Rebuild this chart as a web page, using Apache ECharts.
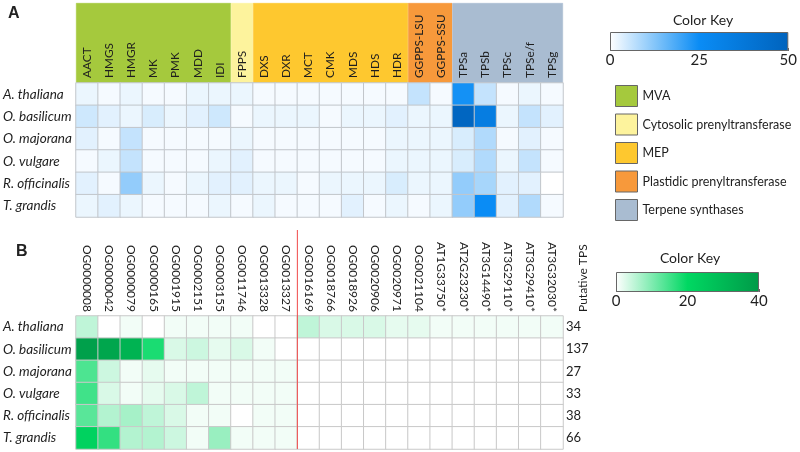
<!DOCTYPE html>
<html>
<head>
<meta charset="utf-8">
<script src="https://cdn.jsdelivr.net/npm/echarts@6/dist/echarts.min.js"></script>
<style>html,body{margin:0;padding:0;background:#fff;}#c{width:800px;height:452px;}</style>
</head>
<body>
<div id="c"></div>
<script>
// ---------- data ----------
const species = ['A. thaliana', 'O. basilicum', 'O. majorana', 'O. vulgare', 'R. officinalis', 'T. grandis'];
const enzymes = ['AACT','HMGS','HMGR','MK','PMK','MDD','IDI','FPPS','DXS','DXR','MCT','CMK','MDS','HDS','HDR','GGPPS-LSU','GGPPS-SSU','TPSa','TPSb','TPSc','TPSe/f','TPSg'];
const groupNames = ['MVA', 'Cytosolic prenyltransferase', 'MEP', 'Plastidic prenyltransferase', 'Terpene synthases'];
const enzymeGroup = [0,0,0,0,0,0,0,1,2,2,2,2,2,2,2,3,3,4,4,4,4,4];
const valuesA = [
  [2,1,2,1,1,2,2,2,1,1,1, 1,1,1,1,6,1,24,6,1,2,1],
  [5,3,2,4,2,3,5,1,2,2,2, 1,2,2,3,2,2,48,34,2,6,3],
  [3,1,6,1,1,1,1,2,1,1,1, 1,1,1,2,2,2,4,8,1,3,1],
  [1,2,6,1,1,1,2,3,1,1,1, 1,1,1,2,2,2,4,8,2,6,1],
  [3,1,11,2,1,2,3,3,2,2,1, 2,2,2,4,2,2,11,9,3,3,0],
  [2,3,2,1,1,1,2,1,2,1,1, 1,3,1,2,1,2,11,25,3,8,1]
];
const orthogroups = ['OG0000008','OG0000042','OG0000079','OG0000165','OG0001915','OG0002151','OG0003155','OG0011746','OG0013328','OG0013327',
  'OG0016169','OG0018766','OG0018926','OG0020906','OG0020971','OG0021104',
  'AT1G33750*','AT2G23230*','AT3G14490*','AT3G29110*','AT3G29410*','AT3G32030*'];
const firstArabidopsisOnly = 'OG0016169';
const valuesB = [
  [5,0,1,0,1,1,1,1,0,0, 5,3,3,3,2,2, 1,1,1,1,1,1],
  [38,36,32,18,3,4,2,3,1,0, 0,0,0,0,0,0, 0,0,0,0,0,0],
  [14,4,1,2,1,1,1,1,1,1, 0,0,0,0,0,0, 0,0,0,0,0,0],
  [15,3,1,2,3,5,1,1,1,1, 0,0,0,0,0,0, 0,0,0,0,0,0],
  [13,6,7,5,3,1,1,0,1,1, 0,0,0,0,0,0, 0,0,0,0,0,0],
  [22,16,6,6,4,1,8,1,1,1, 0,0,0,0,0,0, 0,0,0,0,0,0]
];
const putativeTPS = [34, 137, 27, 33, 38, 66];
const keyTicksA = {min: 0, max: 50, interval: 25};
const keyTicksB = {min: 0, max: 40, interval: 20};

// ---------- styles ----------
const groupColors = ['#a5c93d', '#fdf39d', '#fec82f', '#f7993b', '#a9bcd1'];
const blueScale = ['#ffffff', '#0a8cf5', '#0063bd'];
const greenScale = ['#ffffff', '#00d862', '#009a48'];
const FONT = 'Lato';
const TXT = '#1e1e1e';

function heat(vals) {
  const out = [];
  vals.forEach((row, i) => row.forEach((v, j) => out.push([j, i, v])));
  return out;
}
function grad(stops) {
  return new echarts.graphic.LinearGradient(0, 0, 1, 0,
    stops.map((c, i) => ({offset: i / (stops.length - 1), color: c})));
}

// header band: one stacked horizontal segment per enzyme group, length = number of enzymes in it
const headerSeries = groupNames.map((g, gi) => ({
  type: 'bar', name: g, stack: 'hdr', xAxisIndex: 0, yAxisIndex: 0,
  barWidth: '100%', silent: true, z: 1,
  itemStyle: {color: groupColors[gi], borderColor: groupColors[gi], borderWidth: 0.6},
  data: [enzymeGroup.filter(x => x === gi).length]
}));

const splitIndex = orthogroups.indexOf(firstArabidopsisOnly);

const chart = echarts.init(document.getElementById('c'), null, {renderer: 'canvas'});
chart.setOption({
  backgroundColor: '#ffffff',
  animation: false,
  textStyle: {fontFamily: FONT},
  title: [
    {text: 'A', left: 3, top: 1, textStyle: {fontFamily: 'Liberation Sans', fontWeight: 'bold', fontSize: 16, color: '#222'}},
    {text: 'B', left: 11, top: 239, textStyle: {fontFamily: 'Liberation Sans', fontWeight: 'bold', fontSize: 16, color: '#222'}},
    {text: 'Color Key', left: 698, top: 8, textAlign: 'center', textStyle: {fontFamily: FONT, fontWeight: 'normal', fontSize: 14, color: TXT}},
    {text: 'Color Key', left: 685, top: 246, textAlign: 'center', textStyle: {fontFamily: FONT, fontWeight: 'normal', fontSize: 14, color: TXT}}
  ],
  legend: {
    data: groupNames, orient: 'vertical', left: 610, top: 80,
    itemWidth: 22, itemHeight: 21, itemGap: 6.5, icon: 'rect', selectedMode: false,
    itemStyle: {borderColor: '#666', borderWidth: 1},
    textStyle: {fontFamily: FONT, fontSize: 12.5, color: TXT}
  },
  grid: [
    {left: 76, top: 3, width: 487, height: 80},      // 0 header band
    {left: 76, top: 83, width: 487, height: 134},    // 1 heatmap A
    {left: 76, top: 316, width: 487, height: 133},   // 2 heatmap B
    {left: 76, top: 230, width: 487, height: 219},   // 3 separator line
    {left: 610, top: 32, width: 181, height: 19},    // 4 key A
    {left: 616, top: 272, width: 143, height: 20}    // 5 key B
  ],
  xAxis: [
    {gridIndex: 0, type: 'value', min: 0, max: enzymes.length, show: false},
    {gridIndex: 1, type: 'category', data: enzymes, show: false},
    {gridIndex: 2, type: 'category', data: orthogroups, position: 'top',
      axisLine: {show: false}, axisTick: {show: false}, splitLine: {show: false},
      axisLabel: {rotate: 90, margin: 4, interval: 0, fontFamily: FONT, fontSize: 12, color: TXT}},
    {gridIndex: 3, type: 'value', min: 0, max: orthogroups.length, show: false},
    {gridIndex: 4, type: 'value', min: keyTicksA.min, max: keyTicksA.max, interval: keyTicksA.interval,
      axisLine: {show: false}, splitLine: {show: false},
      axisTick: {show: true, inside: true, length: 3, lineStyle: {color: '#666'}},
      axisLabel: {margin: 2, fontFamily: FONT, fontSize: 15, color: TXT}},
    {gridIndex: 5, type: 'value', min: keyTicksB.min, max: keyTicksB.max, interval: keyTicksB.interval,
      axisLine: {show: false}, splitLine: {show: false},
      axisTick: {show: true, inside: true, length: 3, lineStyle: {color: '#666'}},
      axisLabel: {margin: 2, fontFamily: FONT, fontSize: 15, color: TXT}},
    {gridIndex: 0, type: 'category', data: enzymes, position: 'bottom', z: 10,
      axisLine: {show: false}, axisTick: {show: false}, splitLine: {show: false}, splitArea: {show: false},
      axisLabel: {inside: true, rotate: 90, margin: 5, interval: 0, fontFamily: FONT, fontSize: 11.8, color: TXT}}
  ],
  yAxis: [
    {gridIndex: 0, type: 'category', data: ['band'], show: false},
    {gridIndex: 1, type: 'category', data: species, inverse: true,
      axisLine: {show: false}, axisTick: {show: false}, splitLine: {show: false},
      axisLabel: {align: 'left', margin: 73, fontFamily: FONT, fontStyle: 'italic', fontSize: 13.5, color: TXT}},
    {gridIndex: 2, type: 'category', data: species, inverse: true,
      axisLine: {show: false}, axisTick: {show: false}, splitLine: {show: false},
      axisLabel: {align: 'left', margin: 73, fontFamily: FONT, fontStyle: 'italic', fontSize: 13.5, color: TXT}},
    {gridIndex: 2, type: 'category', data: putativeTPS.map(String), inverse: true, position: 'right',
      axisLine: {show: false}, axisTick: {show: false}, splitLine: {show: false},
      axisLabel: {align: 'left', margin: 3, fontFamily: FONT, fontSize: 13, color: TXT}},
    {gridIndex: 3, type: 'value', min: 0, max: 1, show: false},
    {gridIndex: 4, type: 'category', data: ['key'], show: false},
    {gridIndex: 5, type: 'category', data: ['key'], show: false}
  ],
  visualMap: [
    {type: 'continuous', show: false, seriesIndex: 5, min: keyTicksA.min, max: keyTicksA.max, inRange: {color: blueScale}},
    {type: 'continuous', show: false, seriesIndex: 6, min: keyTicksB.min, max: keyTicksB.max, inRange: {color: greenScale}}
  ],
  series: headerSeries.concat([
    {type: 'heatmap', xAxisIndex: 1, yAxisIndex: 1, z: 2, data: heat(valuesA),
      itemStyle: {borderColor: '#c2c6cb', borderWidth: 1}, emphasis: {disabled: true}},
    {type: 'heatmap', xAxisIndex: 2, yAxisIndex: 2, z: 2, data: heat(valuesB),
      itemStyle: {borderColor: '#c9c9c9', borderWidth: 1}, emphasis: {disabled: true}},
    {type: 'line', xAxisIndex: 3, yAxisIndex: 4, z: 50, zlevel: 2, silent: true, showSymbol: false,
      lineStyle: {color: '#f04a4a', width: 1, opacity: 1},
      data: [[splitIndex, 0], [splitIndex, 1]]},
    {type: 'bar', xAxisIndex: 4, yAxisIndex: 5, barWidth: '100%', silent: true,
      itemStyle: {color: grad(blueScale), borderColor: '#666', borderWidth: 1},
      data: [keyTicksA.max]},
    {type: 'bar', xAxisIndex: 5, yAxisIndex: 6, barWidth: '100%', silent: true,
      itemStyle: {color: grad(greenScale), borderColor: '#666', borderWidth: 1},
      data: [keyTicksB.max]}
  ]),
  graphic: [
    {type: 'text', x: 583, y: 312, rotation: Math.PI / 2,
      style: {text: 'Putative TPS', fill: TXT, font: '12px Lato', textAlign: 'left', textVerticalAlign: 'middle'}}
  ]
});
</script>
</body>
</html>
